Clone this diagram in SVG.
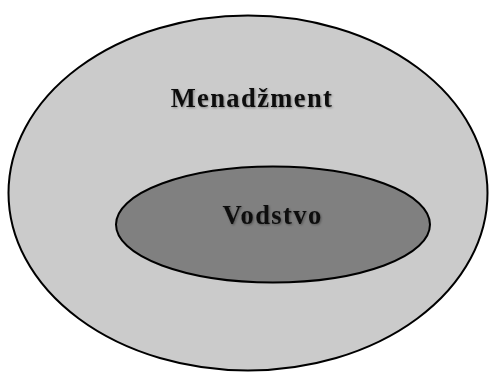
<svg xmlns="http://www.w3.org/2000/svg" width="489" height="372" viewBox="0 0 489 372">
<defs>
<style>
.ell{stroke:#000;stroke-width:2}
.lbl{font-family:"Liberation Serif","Times New Roman",serif;font-weight:bold;font-size:26.5px;letter-spacing:1.4px;fill:#111;text-anchor:middle;filter:url(#sh)}
</style>
<filter id="sh" x="-10%" y="-30%" width="120%" height="160%">
<feDropShadow dx="1" dy="1" stdDeviation="0.8" flood-color="#000" flood-opacity="0.35"/>
</filter>
</defs>
<rect width="489" height="372" fill="#fff"/>
<g id="menadzment">
<ellipse class="ell" cx="248" cy="193" rx="239.5" ry="177.5" fill="#cbcbcb"/>
<text class="lbl" x="252" y="107">Menadžment</text>
</g>
<g id="vodstvo">
<ellipse class="ell" cx="273" cy="224.5" rx="157" ry="58" fill="#808080"/>
<text class="lbl" x="272.5" y="223.5">Vodstvo</text>
</g>
<g id="connectors"/>
</svg>
